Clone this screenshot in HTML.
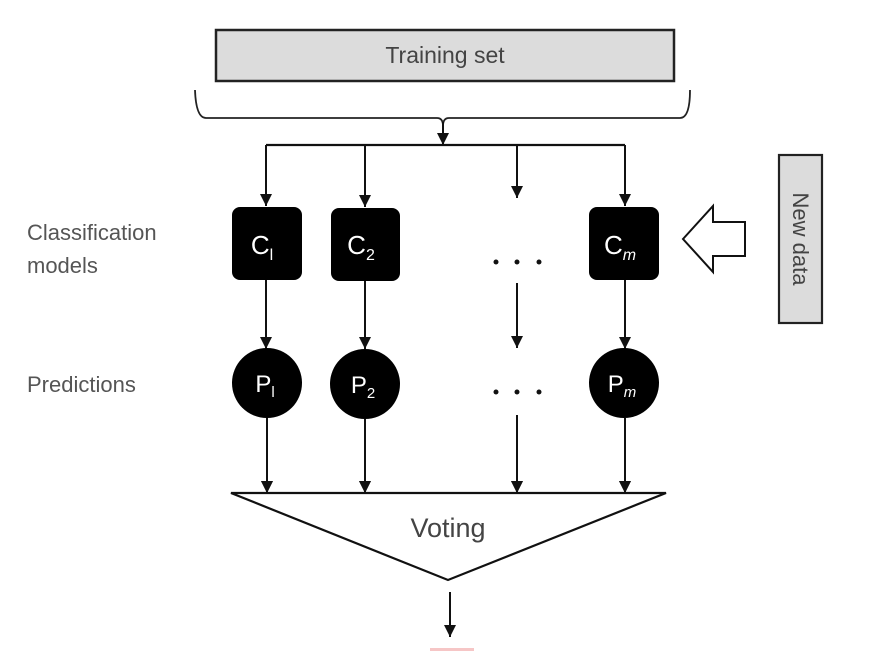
<!DOCTYPE html>
<html><head><style>
html,body{margin:0;padding:0;background:#fff;}
svg{display:block;}
text{font-family:"Liberation Sans",sans-serif;}
</style></head><body>
<svg width="895" height="658" viewBox="0 0 895 658" xmlns="http://www.w3.org/2000/svg">
<defs>
<marker id="ah" markerWidth="12" markerHeight="12" refX="12" refY="6" orient="auto" markerUnits="userSpaceOnUse" viewBox="0 0 12 12">
<path d="M0,0 L12,6 L0,12 Z" fill="#111"/>
</marker>
</defs>
<rect x="216" y="30" width="458" height="51" fill="#dcdcdc" stroke="#222" stroke-width="2.5"/>
<text x="445" y="63" font-size="23" fill="#444" text-anchor="middle">Training set</text>
<path d="M195,90 Q196,118 206,118 L437,118 Q443,118 443,126 Q443,118 449,118 L680,118 Q690,118 690,90" fill="none" stroke="#222" stroke-width="1.8"/>
<line x1="443" y1="122" x2="443" y2="145" stroke="#111" stroke-width="2" marker-end="url(#ah)"/>
<line x1="266" y1="145" x2="625" y2="145" stroke="#111" stroke-width="2.2"/>
<g stroke="#111" stroke-width="2" marker-end="url(#ah)">
<line x1="266" y1="145" x2="266" y2="206"/>
<line x1="365" y1="145" x2="365" y2="207"/>
<line x1="517" y1="145" x2="517" y2="198"/>
<line x1="625" y1="145" x2="625" y2="206"/>
<line x1="266" y1="280" x2="266" y2="349"/>
<line x1="365" y1="281" x2="365" y2="349"/>
<line x1="517" y1="283" x2="517" y2="348"/>
<line x1="625" y1="280" x2="625" y2="349"/>
<line x1="267" y1="418" x2="267" y2="493"/>
<line x1="365" y1="419" x2="365" y2="493"/>
<line x1="517" y1="415" x2="517" y2="493"/>
<line x1="625" y1="418" x2="625" y2="493"/>
<line x1="450" y1="592" x2="450" y2="637"/>
</g>
<rect x="232" y="207" width="70" height="73" rx="8" fill="#000"/>
<rect x="331" y="208" width="69" height="73" rx="8" fill="#000"/>
<rect x="589" y="207" width="70" height="73" rx="8" fill="#000"/>
<text x="262" y="254" font-size="26" fill="#fff" text-anchor="middle">C<tspan font-size="16" dy="6">l</tspan></text>
<text x="361" y="254" font-size="26" fill="#fff" text-anchor="middle">C<tspan font-size="16" dy="6">2</tspan></text>
<text x="620" y="254" font-size="26" fill="#fff" text-anchor="middle">C<tspan font-size="16" dy="6" font-style="italic">m</tspan></text>
<g fill="#111"><circle cx="496" cy="262" r="2.5"/><circle cx="517" cy="262" r="2.5"/><circle cx="539" cy="262" r="2.5"/>
<circle cx="496" cy="392" r="2.5"/><circle cx="517" cy="392" r="2.5"/><circle cx="539" cy="392" r="2.5"/></g>
<circle cx="267" cy="383" r="35" fill="#000"/>
<circle cx="365" cy="384" r="35" fill="#000"/>
<circle cx="624" cy="383" r="35" fill="#000"/>
<text x="265" y="392" font-size="24" fill="#fff" text-anchor="middle">P<tspan font-size="15" dy="5">l</tspan></text>
<text x="363" y="393" font-size="24" fill="#fff" text-anchor="middle">P<tspan font-size="15" dy="5">2</tspan></text>
<text x="622" y="392" font-size="24" fill="#fff" text-anchor="middle">P<tspan font-size="15" dy="5" font-style="italic">m</tspan></text>
<polygon points="231,493 666,493 448,580" fill="#fff" stroke="#111" stroke-width="2.2"/>
<g stroke="#111" stroke-width="2" marker-end="url(#ah)">
<line x1="267" y1="470" x2="267" y2="493"/>
<line x1="365" y1="470" x2="365" y2="493"/>
<line x1="517" y1="470" x2="517" y2="493"/>
<line x1="625" y1="470" x2="625" y2="493"/>
</g>
<text x="448" y="537" font-size="27" fill="#444" text-anchor="middle">Voting</text>
<rect x="430" y="648" width="44" height="3" fill="#f6c6c6"/>
<rect x="779" y="155" width="43" height="168" fill="#dcdcdc" stroke="#222" stroke-width="2.2"/>
<text transform="translate(793,239) rotate(90)" font-size="22" fill="#444" text-anchor="middle">New data</text>
<polygon points="683,239 713,206 713,222 745,222 745,256 713,256 713,272" fill="#fff" stroke="#111" stroke-width="2"/>
<g font-size="22" fill="#555">
<text x="27" y="240">Classification</text>
<text x="27" y="273">models</text>
<text x="27" y="392">Predictions</text>
</g>
</svg>
</body></html>
